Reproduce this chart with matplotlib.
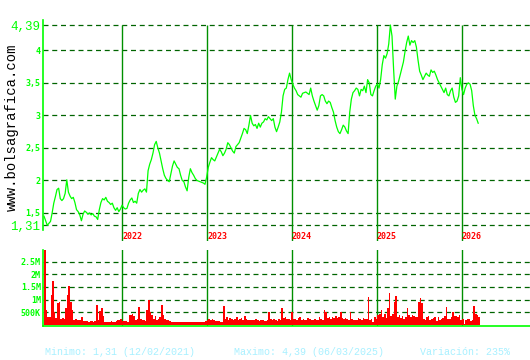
import matplotlib
matplotlib.use("Agg")
import matplotlib.pyplot as plt
import matplotlib.dates as mdates
import matplotlib.transforms as mtransforms
import pandas as pd

# weekly closes, from 29/01/2021
start_date = "2021-01-29"
price = [
    1.45, 1.38, 1.31, 1.34, 1.37, 1.50, 1.65, 1.75, 1.86, 1.88,
    1.72, 1.69, 1.72, 1.80, 2.01, 1.82, 1.76, 1.72, 1.74, 1.66,
    1.55, 1.52, 1.47, 1.38, 1.48, 1.53, 1.51, 1.48, 1.50, 1.47,
    1.49, 1.45, 1.44, 1.40, 1.55, 1.66, 1.72, 1.70, 1.74, 1.68,
    1.66, 1.63, 1.65, 1.58, 1.54, 1.58, 1.52, 1.56,
    1.62, 1.58, 1.56, 1.57, 1.65, 1.70, 1.73, 1.66, 1.68, 1.65,
    1.80, 1.86, 1.82, 1.85, 1.87, 1.82, 2.15, 2.25, 2.32, 2.42,
    2.55, 2.60, 2.50, 2.42, 2.30, 2.18, 2.08, 2.03, 2.00, 1.98,
    2.10, 2.22, 2.30, 2.25, 2.20, 2.18, 2.08, 2.00, 1.98, 1.90,
    1.84, 2.05, 2.18, 2.12, 2.08, 2.03, 2.00, 1.99, 1.98, 1.97,
    1.96, 1.94,
    2.05, 2.20, 2.28, 2.35, 2.32, 2.30, 2.36, 2.42, 2.48, 2.44,
    2.38, 2.42, 2.48, 2.58, 2.55, 2.50, 2.45, 2.42, 2.52, 2.55,
    2.58, 2.65, 2.72, 2.80, 2.78, 2.72, 2.85, 3.00, 2.88, 2.84,
    2.86, 2.80, 2.88, 2.82, 2.88, 2.90, 2.95, 2.93, 2.98, 2.95,
    2.92, 2.95, 2.82, 2.75, 2.82, 2.90, 3.05, 3.30, 3.40, 3.42,
    3.55, 3.65, 3.55,
    3.48, 3.42, 3.38, 3.32, 3.30, 3.28, 3.34, 3.35, 3.36, 3.34,
    3.32, 3.42, 3.30, 3.22, 3.15, 3.08, 3.15, 3.30, 3.32, 3.30,
    3.22, 3.18, 3.22, 3.20, 3.12, 3.05, 2.92, 2.82, 2.75, 2.72,
    2.78, 2.85, 2.82, 2.76, 2.72, 3.05, 3.25, 3.35, 3.38, 3.42,
    3.40, 3.30, 3.40, 3.38, 3.45, 3.35, 3.55, 3.50, 3.32, 3.30,
    3.38, 3.45, 3.48, 3.42, 3.55, 3.78, 3.92, 3.88, 3.95, 4.10,
    4.39, 4.22, 3.70, 3.25, 3.45, 3.52, 3.62, 3.72, 3.82, 3.98,
    4.12, 4.22, 4.08, 4.15, 4.12, 4.15, 4.05, 3.85, 3.68, 3.62,
    3.55, 3.60, 3.65, 3.62, 3.60, 3.70, 3.66, 3.68, 3.62, 3.55,
    3.50, 3.45, 3.40, 3.35, 3.42, 3.32, 3.30, 3.38, 3.42, 3.28,
    3.20, 3.22, 3.30, 3.58, 3.40, 3.32, 3.42, 3.48, 3.50, 3.48,
    3.38, 3.15, 3.00, 2.95, 2.88,
]

# volume in thousands
volume = [
    2950, 580, 300, 320, 1200, 1750, 500, 280, 860, 900,
    250, 260, 240, 650, 1200, 1550, 900, 600, 200, 220,
    180, 200, 210, 300, 150, 160, 140, 130, 150, 160,
    120, 140, 800, 200, 550, 650, 350, 130, 110, 120,
    100, 140, 120, 110, 150, 200, 180, 220,
    150, 140, 160, 130, 400, 380, 420, 350, 200, 250,
    700, 220, 180, 200, 150, 600, 1000, 500, 400, 250,
    350, 200, 250, 300, 800, 400, 250, 200, 180, 150,
    130, 120, 110, 120, 100, 110, 130, 120, 100, 110,
    120, 100, 110, 130, 120, 100, 110, 120, 130, 110,
    120, 140,
    200, 230, 180, 250, 210, 150, 140, 160, 130, 120,
    750, 250, 300, 200, 280, 220, 180, 250, 300, 200,
    230, 260, 180, 350, 240, 200, 210, 180, 200, 190,
    220, 180, 160, 200, 180, 150, 170, 200, 500, 220,
    180, 250, 200, 160, 230, 210, 650, 280, 300, 250,
    240, 200, 500,
    220, 250, 180, 260, 300, 200, 240, 180, 210, 270,
    230, 180, 200, 250, 190, 210, 300, 240, 200, 600,
    500, 280, 330, 250, 300, 270, 350, 260, 300, 500,
    260, 230, 280, 250, 200, 500, 240, 210, 180, 200,
    260, 230, 200, 280, 220, 250, 1100, 180, 240, 100,
    300, 250, 400, 420, 600, 300, 450, 280, 650, 1250,
    350, 450, 900, 1150, 300, 400, 280, 350, 250, 320,
    650, 380, 300, 400, 350, 300, 320, 900, 1050, 850,
    250, 200, 300, 350, 180, 220, 280, 300, 150, 330,
    200, 250, 280, 350, 700, 220, 250, 300, 500, 350,
    350, 300, 380, 200, 250, 50, 180, 220, 250, 160,
    200, 750, 450, 400, 300,
]

years = [2022, 2023, 2024, 2025, 2026]
price_ticks = [1.31, 1.5, 2, 2.5, 3, 3.5, 4, 4.39]
price_labels = ["1,31", "1,5", "2", "2,5", "3", "3,5", "4", "4,39"]
vol_ticks = [500, 1000, 1500, 2000, 2500]
vol_labels = ["500K", "1M", "1.5M", "2M", "2.5M"]

dates = pd.date_range(start_date, periods=len(price), freq="7D")

W, H = 530, 360
fig = plt.figure(figsize=(W / 100, H / 100), dpi=100)
fig.patch.set_facecolor("white")

GRID = "#006400"
YEARLINE = "#009000"
BRIGHT = "#00ff00"

# pixel scale: 2022-01-01 at x=122.3, 2026-01-01 at x=461.7
d22 = mdates.date2num(pd.Timestamp("2022-01-01"))
ppd = (461.7 - 122.3) / 1461
xlim = (d22 - (122.3 - 43) / ppd, d22 + (530 - 122.3) / ppd)

ax = fig.add_axes([43 / W, 1 - 241 / H, (W - 43) / W, (241 - 20) / H])
ax.set_xlim(xlim)
ax.set_ylim(1.31 - (241 - 225.3) / 65, 4.39 + 5 / 65)
for v in price_ticks:
    ax.axhline(v, color=GRID, lw=0.9, ls=(0, (4, 3)), zorder=1)
for y in years:
    ax.vlines(pd.Timestamp(f"{y}-01-01"), ax.get_ylim()[0], 4.39,
              color=YEARLINE, lw=1.0, zorder=2)
ax.plot(dates, price, color=BRIGHT, lw=0.9, zorder=3)
for s in ["top", "right", "bottom"]:
    ax.spines[s].set_visible(False)
ax.spines["left"].set_color(BRIGHT)
ax.spines["left"].set_linewidth(1.2)
ax.spines["left"].set_bounds(1.31 - 4.7 / 65, ax.get_ylim()[1])
ax.set_xticks([])
ax.set_yticks(price_ticks)
ax.set_yticklabels(price_labels)
ax.tick_params(axis="y", length=0, pad=2, colors=BRIGHT)
for lab in ax.get_yticklabels():
    if lab.get_text() in ("1,31", "4,39"):
        lab.set_fontfamily("Liberation Mono")
        lab.set_fontsize(9)
    else:
        lab.set_fontfamily("DejaVu Sans Mono")
        lab.set_fontsize(6)
        lab.set_fontweight("bold")

# year labels under the main panel
trans = mtransforms.blended_transform_factory(ax.transData, fig.transFigure)
for y in years:
    ax.text(pd.Timestamp(f"{y}-01-01"), 1 - 236.5 / H, str(y), transform=trans,
            ha="left", va="center", color="red", fontsize=6, fontweight="bold",
            family="DejaVu Sans Mono", clip_on=False)

# volume panel
vpk = 500 / 12.7
axv = fig.add_axes([43 / W, 1 - 326 / H, (W - 43) / W, (326 - 250) / H])
axv.set_xlim(xlim)
axv.set_ylim(-1 * vpk, (325 - 250) * vpk)
for v in vol_ticks:
    axv.axhline(v, color=GRID, lw=0.9, ls=(0, (4, 3)), zorder=1)
for y in years:
    axv.axvline(pd.Timestamp(f"{y}-01-01"), color=YEARLINE, lw=1.0, zorder=2)
axv.bar(dates, volume, width=7, color="#ff0000", lw=0, align="edge", zorder=3)
for s in ["top", "right"]:
    axv.spines[s].set_visible(False)
for s in ["left", "bottom"]:
    axv.spines[s].set_color(BRIGHT)
    axv.spines[s].set_linewidth(1.2)
axv.spines["bottom"].set_zorder(4)
axv.set_xticks([])
axv.set_yticks(vol_ticks)
axv.set_yticklabels(vol_labels, fontsize=6, fontweight="bold",
                    family="DejaVu Sans Mono")
axv.tick_params(axis="y", length=0, pad=1.5, colors=BRIGHT)

fig.text(12 / W, 1 - 127 / H, "www.bolsagrafica.com", rotation=90,
         ha="center", va="center", color="black", fontsize=10,
         family="Liberation Mono")

INFO = "#a8f0ff"
y_info = 1 - 352 / H
fig.text(45 / W, y_info, "Minimo: 1,31 (12/02/2021)", color=INFO,
         fontsize=7.2, family="Liberation Mono", va="center")
fig.text(234 / W, y_info, "Maximo: 4,39 (06/03/2025)", color=INFO,
         fontsize=7.2, family="Liberation Mono", va="center")
fig.text(420 / W, y_info, "Variación: 235%", color=INFO,
         fontsize=7.2, family="Liberation Mono", va="center")

fig.savefig("out.png", dpi=100)
